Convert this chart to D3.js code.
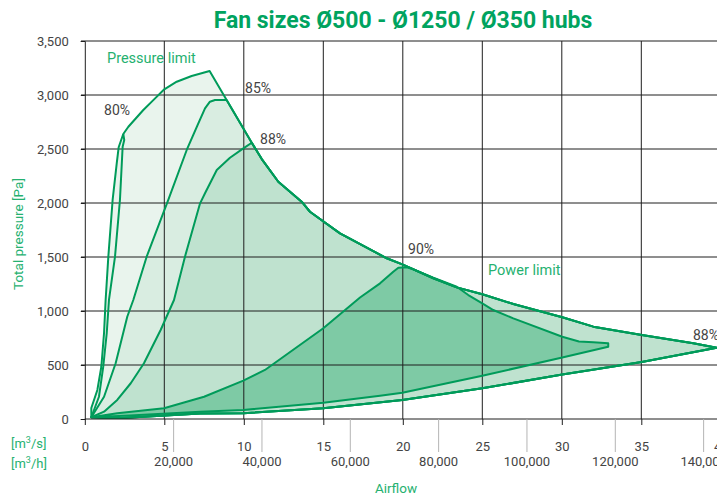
<!DOCTYPE html>
<html>
<head>
<meta charset="utf-8">
<script src="https://cdn.jsdelivr.net/npm/d3@7"></script>
<style>
  body { margin: 0; background: #fff; }
  text { font-family: Roboto, "Noto Sans", sans-serif; }
</style>
</head>
<body>
<svg id="chart" width="717" height="495"></svg>
<script>
// airflow in m3/s, pressure in Pa
var flowTicks = [0, 5, 10, 15, 20, 25, 30, 35, 40];
var flowHourTicks = [20000, 40000, 60000, 80000, 100000, 120000, 140000];
var pressureTicks = [0, 500, 1000, 1500, 2000, 2500, 3000, 3500];

var leftEdge = [[0.41,16],[0.41,102],[0.79,269],[1.04,484],[1.21,796],[1.31,1102],[1.48,1503],[1.75,2028],[2.01,2370],[2.13,2516],[2.42,2639]];
var innerEdge = [[2.42,2639],[2.48,2584],[2.38,2521],[2.21,2028],[1.90,1503],[1.52,1102],[1.38,796],[1.16,484],[0.89,206],[0.41,16]];
var pressureLimit = [[2.42,2639],[2.74,2706],[3.68,2861],[4.42,2969],[5.0,3053],[5.78,3123],[6.72,3176],[7.85,3222]];
var powerLimit = [[7.85,3222],[8.92,2954],[10.5,2558],[11.13,2407],[12.17,2197],[13.64,2012],[14.16,1919],[16.05,1719],[18.99,1488],[19.97,1432],[21.92,1303],[23.39,1219],[25.0,1155],[26.95,1065],[30.03,942],[31.98,855],[35.03,778],[38.27,701],[39.74,660]];
var bottomEdge = [[39.74,660],[35.03,528],[30.03,412],[25.0,284],[19.97,176],[15.0,99],[9.97,53],[7.25,51],[1.94,6],[0.41,16]];
var eff85 = [[0.41,16],[1.21,206],[1.94,516],[2.67,947],[3.05,1102],[3.89,1503],[5.25,2028],[6.41,2491],[7.14,2738],[7.56,2877],[7.87,2938],[8.19,2954],[8.92,2954]];
var eff88 = [[0.41,16],[1.21,68],[2.04,176],[2.89,331],[3.72,516],[4.77,824],[5.61,1102],[6.30,1503],[7.25,1997],[7.56,2090],[8.30,2306],[9.13,2419],[9.97,2506],[10.5,2558]];
var eff90Top = [[0.41,16],[2.04,53],[4.98,99],[7.50,206],[9.97,356],[11.33,454],[15.0,840],[17.31,1125],[18.57,1256],[19.40,1364],[19.72,1401],[20.25,1405],[20.66,1386],[21.92,1308],[23.39,1225],[24.12,1148],[25.0,1071],[25.69,1009],[26.95,932],[30.03,762],[31.08,718],[31.98,710],[32.92,701]];
var eff90Bottom = [[32.92,669],[30.03,569],[25.0,401],[19.97,244],[18.57,216],[15.0,151],[9.97,83],[7.25,68],[2.84,32],[0.41,16]];

var labels = [
  { text: "80%", q: 1.21, p: 2815 },
  { text: "85%", q: 10.08, p: 3018 },
  { text: "88%", q: 11.02, p: 2546 },
  { text: "90%", q: 20.33, p: 1528 },
  { text: "88%", q: 38.25, p: 731 }
];

var svg = d3.select('#chart');
var x = d3.scaleLinear().domain([0, 40]).range([84.8, 720.8]);
var xh = d3.scaleLinear().domain([0, 40 * 3600]).range([84.8, 720.8]);
var y = d3.scaleLinear().domain([0, 3500]).range([419, 41]);

var green = '#009b5a';
var labelGreen = '#25b170';
var textGray = '#444';

function tail(arr) { return arr.slice(1); }
function fromQ(arr, q) {
  var i = arr.findIndex(function (d) { return d[0] === q; });
  return arr.slice(i + 1);
}

var line = d3.line().x(function (d) { return x(d[0]); }).y(function (d) { return y(d[1]); });

var outer = leftEdge.concat(tail(pressureLimit), tail(powerLimit), tail(bottomEdge));
var poly85 = eff85.concat(fromQ(powerLimit, 8.92), tail(bottomEdge));
var poly88 = eff88.concat(fromQ(powerLimit, 10.5), tail(bottomEdge));
var poly90 = eff90Top.concat(eff90Bottom);

var areas = [
  { pts: outer, fill: '#e9f4ed' },
  { pts: poly85, fill: '#d9ede1' },
  { pts: poly88, fill: '#bfe2cf' },
  { pts: poly90, fill: '#7ecaa5' }
];

var clip = svg.append('clipPath').attr('id', 'plotclip');
clip.append('rect').attr('x', 84.8).attr('y', 30).attr('width', 632.2).attr('height', 389);

var gArea = svg.append('g').attr('clip-path', 'url(#plotclip)');
gArea.selectAll('path.fill').data(areas).enter().append('path')
  .attr('d', function (d) { return line(d.pts) + 'Z'; })
  .attr('fill', function (d) { return d.fill; })
  .attr('stroke', 'none');

// grid
var grid = svg.append('g');
grid.selectAll('line.v').data(flowTicks.filter(function (d) { return d > 0; })).enter().append('line')
  .attr('x1', function (d) { return x(d); }).attr('x2', function (d) { return x(d); })
  .attr('y1', y(3500)).attr('y2', y(0))
  .attr('stroke', '#1e1e1e').attr('stroke-width', 1);
grid.selectAll('line.h').data(pressureTicks.filter(function (d) { return d > 0; })).enter().append('line')
  .attr('x1', 81).attr('x2', 717)
  .attr('y1', function (d) { return y(d); }).attr('y2', function (d) { return y(d); })
  .attr('stroke', '#1e1e1e').attr('stroke-width', 1);

// outlines
var gLines = svg.append('g').attr('clip-path', 'url(#plotclip)');
areas.forEach(function (a) {
  gLines.append('path').attr('d', line(a.pts) + 'Z')
    .attr('fill', 'none').attr('stroke', green).attr('stroke-width', 2)
    .attr('stroke-linejoin', 'round');
});
gLines.append('path').attr('d', line(innerEdge))
  .attr('fill', 'none').attr('stroke', green).attr('stroke-width', 2)
  .attr('stroke-linejoin', 'round');

// y axis
var yAxis = svg.append('g').attr('transform', 'translate(84.8,0)')
  .call(d3.axisLeft(y).tickValues(pressureTicks).tickSize(4).tickPadding(12).tickFormat(d3.format(',')));
yAxis.select('.domain').attr('stroke', '#1e1e1e');
yAxis.selectAll('line').attr('stroke', '#1e1e1e');
yAxis.selectAll('text').attr('fill', textGray).style('font-size', '13px');

// x axis m3/s
var xAxis = svg.append('g').attr('transform', 'translate(0,419)')
  .call(d3.axisBottom(x).tickValues(flowTicks).tickSize(6).tickPadding(17).tickFormat(d3.format('d')));
xAxis.select('.domain').attr('stroke', '#1e1e1e').attr('d', 'M84.8,0H717');
xAxis.selectAll('line').attr('stroke', '#1e1e1e');
xAxis.selectAll('text').attr('fill', textGray).style('font-size', '13px');

// x axis m3/h
var xhAxis = svg.append('g').attr('transform', 'translate(0,419)')
  .call(d3.axisBottom(xh).tickValues(flowHourTicks).tickSize(33).tickPadding(5).tickFormat(d3.format(',')));
xhAxis.select('.domain').remove();
xhAxis.selectAll('line').attr('stroke', '#b4b4b4');
xhAxis.selectAll('text').attr('fill', textGray).style('font-size', '13px');

// unit labels
var u1 = svg.append('text').attr('x', 11).attr('y', 448).attr('fill', labelGreen).style('font-size', '13px');
u1.append('tspan').text('[m');
u1.append('tspan').text('3').attr('dy', -5).style('font-size', '9px');
u1.append('tspan').text('/s]').attr('dy', 5);
var u2 = svg.append('text').attr('x', 11).attr('y', 468).attr('fill', labelGreen).style('font-size', '13px');
u2.append('tspan').text('[m');
u2.append('tspan').text('3').attr('dy', -5).style('font-size', '9px');
u2.append('tspan').text('/h]').attr('dy', 5);

svg.append('text').attr('x', 396).attr('y', 493).attr('text-anchor', 'middle')
  .attr('fill', labelGreen).style('font-size', '13.5px').text('Airflow');

svg.append('text').attr('transform', 'translate(23,234) rotate(-90)').attr('text-anchor', 'middle')
  .attr('fill', labelGreen).style('font-size', '13.5px').text('Total pressure [Pa]');

// title
svg.append('text').attr('x', 403).attr('y', 28).attr('text-anchor', 'middle')
  .attr('fill', '#00a35f').style('font-size', '23px').style('font-weight', 'bold')
  .text('Fan sizes Ø500 - Ø1250 / Ø350 hubs');

// annotations
svg.append('text').attr('x', 107).attr('y', 63).attr('fill', labelGreen).style('font-size', '14.5px').text('Pressure limit');
svg.append('text').attr('x', 488).attr('y', 275).attr('fill', labelGreen).style('font-size', '14.5px').text('Power limit');

svg.selectAll('text.pct').data(labels).enter().append('text')
  .attr('x', function (d) { return x(d.q); })
  .attr('y', function (d) { return y(d.p); })
  .attr('fill', textGray).style('font-size', '14px')
  .text(function (d) { return d.text; });
</script>
</body>
</html>
